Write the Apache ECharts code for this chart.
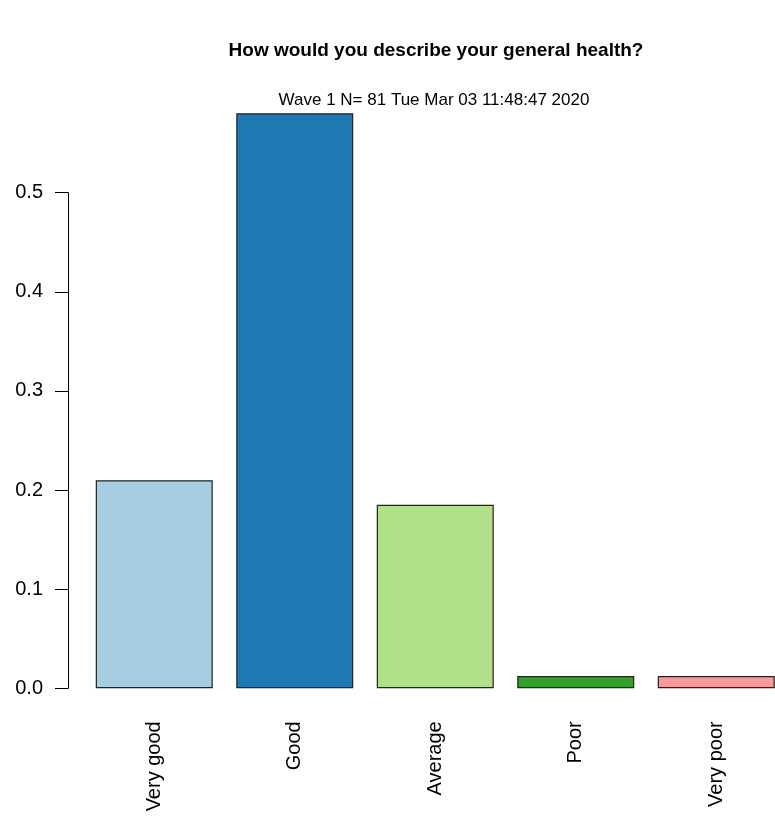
<!DOCTYPE html>
<html>
<head>
<meta charset="utf-8">
<script src="https://cdn.jsdelivr.net/npm/echarts@6/dist/echarts.min.js"></script>
<style>
html,body{margin:0;padding:0;background:#fff;}
#chart{width:775px;height:816px;}
</style>
</head>
<body>
<div id="chart"></div>
<script>
var categories = ['Very good', 'Good', 'Average', 'Poor', 'Very poor'];
var proportions = [0.2099, 0.5802, 0.1852, 0.0123, 0.0123];
var barColors = ['#A6CEE3', '#1F78B4', '#B2DF8A', '#33A02C', '#FB9A99'];
var yTicks = [0, 0.1, 0.2, 0.3, 0.4, 0.5];
var titleText = 'How would you describe your general health?';
var subtitleText = 'Wave 1 N= 81 Tue Mar 03 11:48:47 2020';

var FONT = '"Liberation Sans", Arial, sans-serif';
var chart = echarts.init(document.getElementById('chart'), null, {renderer: 'canvas'});

var option = {
  backgroundColor: '#ffffff',
  animation: false,
  title: [
    {text: titleText, left: 436, top: 41, padding: 0, textAlign: 'center',
     textStyle: {fontFamily: FONT, fontSize: 19, fontWeight: 'bold', color: '#000'}},
    {text: subtitleText, left: 434, top: 92, padding: 0, textAlign: 'center',
     textStyle: {fontFamily: FONT, fontSize: 17, fontWeight: 'normal', color: '#000'}}
  ],
  grid: [
    {left: 84, width: 702.5, top: 93.6, height: 594.7, containLabel: false, outerBoundsMode: 'none'},
    {left: 68, width: 1, top: 192.7, height: 495.6, containLabel: false, outerBoundsMode: 'none'}
  ],
  xAxis: [
    {type: 'category', gridIndex: 0, data: categories,
     axisLine: {show: false}, axisTick: {show: false}, splitLine: {show: false},
     axisLabel: {rotate: 90, margin: 33, fontSize: 20, fontFamily: FONT, color: '#000', interval: 0}},
    {type: 'value', gridIndex: 1, show: false}
  ],
  yAxis: [
    {type: 'value', gridIndex: 0, min: 0, max: 0.6, show: false},
    {type: 'value', gridIndex: 1, min: yTicks[0], max: yTicks[yTicks.length - 1], interval: 0.1,
     axisLine: {show: true, lineStyle: {color: '#000', width: 1}},
     axisTick: {show: true, length: 13, lineStyle: {color: '#000', width: 1}},
     splitLine: {show: false},
     axisLabel: {margin: 25, fontSize: 20, fontFamily: FONT, color: '#000',
       formatter: function (v) { return v.toFixed(1); }}}
  ],
  series: [
    {type: 'bar', xAxisIndex: 0, yAxisIndex: 0, barWidth: 117,
     data: proportions.map(function (v, i) {
       return {value: v, itemStyle: {color: barColors[i]}};
     }),
     itemStyle: {borderColor: '#222', borderWidth: 1.2}}
  ]
};
chart.setOption(option);
</script>
</body>
</html>
